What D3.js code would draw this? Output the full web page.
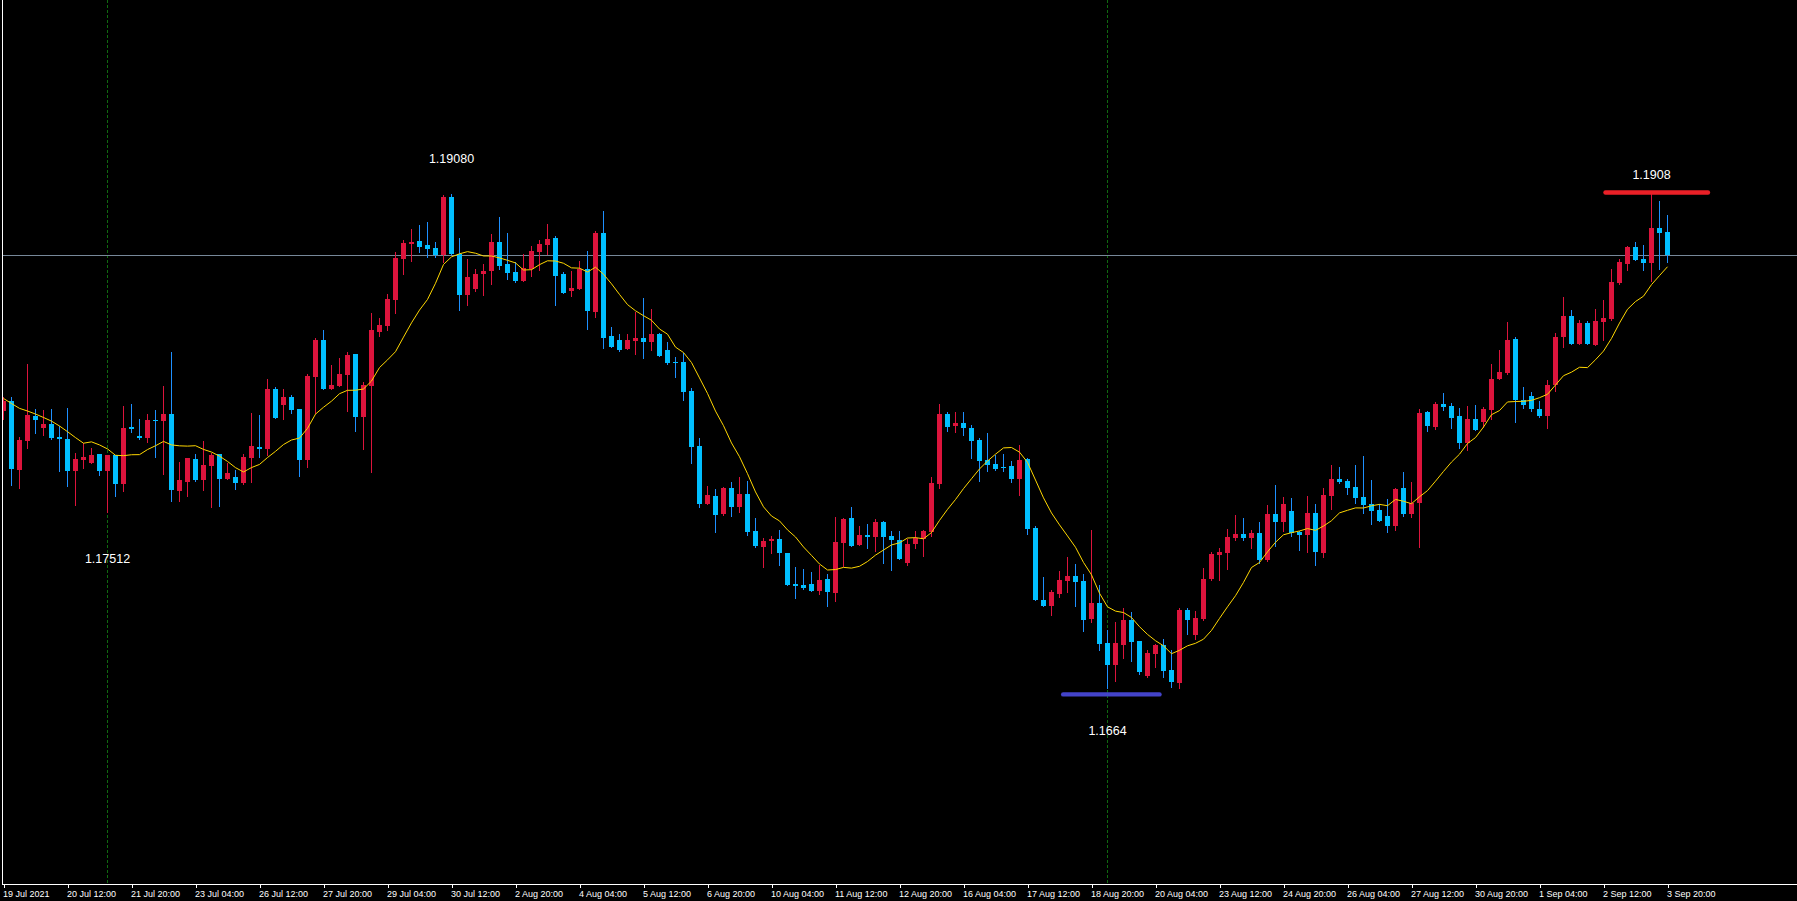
<!DOCTYPE html>
<html>
<head>
<meta charset="utf-8">
<script src="https://cdn.jsdelivr.net/npm/d3@7"></script>
<style>
  html, body { margin: 0; padding: 0; background: #000; overflow: hidden; }
  svg { display: block; }
</style>
</head>
<body>
<div id="chart"></div>
<script>
// ---- DATA (EURUSD H4, 19 Jul 2021 04:00 .. 3 Sep 2021 20:00) ----
const open = [
1.18010,1.18058,1.17717,1.17861,1.17984,1.17925,1.17944,1.17879,1.17870,1.17714,
1.17767,1.17754,1.17796,1.17714,1.17791,1.17650,1.17928,1.17885,1.17875,1.17964,
1.17961,1.17994,1.17615,1.17660,1.17772,1.17670,1.17739,1.17796,1.17675,1.17683,
1.17655,1.17778,1.17831,1.17823,1.18117,1.18038,1.18078,1.18019,1.17769,1.18178,
1.18359,1.18119,1.18134,1.18188,1.18290,1.17981,1.18134,1.18400,1.18430,1.18558,
1.18761,1.18835,1.18848,1.18828,1.18813,1.18780,1.19065,1.18785,1.18583,1.18613,
1.18687,1.18700,1.18843,1.18734,1.18695,1.18651,1.18710,1.18794,1.18828,1.18863,
1.18685,1.18601,1.18611,1.18710,1.18498,1.18887,1.18379,1.18359,1.18315,1.18354,
1.18369,1.18349,1.18389,1.18310,1.18251,1.18251,1.18108,1.17836,1.17550,1.17589,
1.17500,1.17629,1.17536,1.17600,1.17417,1.17338,1.17368,1.17378,1.17308,1.17155,
1.17151,1.17155,1.17121,1.17180,1.17111,1.17358,1.17481,1.17348,1.17397,1.17387,
1.17462,1.17392,1.17373,1.17259,1.17353,1.17378,1.17412,1.17649,1.17995,1.17935,
1.17950,1.17925,1.17866,1.17767,1.17747,1.17732,1.17737,1.17673,1.17772,1.17431,
1.17076,1.17046,1.17106,1.17170,1.17194,1.17170,1.16982,1.17061,1.16864,1.16755,
1.16854,1.16977,1.16874,1.16701,1.16809,1.16854,1.16730,1.16666,1.17027,1.16903,
1.16982,1.17180,1.17298,1.17308,1.17382,1.17402,1.17382,1.17407,1.17274,1.17501,
1.17461,1.17515,1.17412,1.17397,1.17506,1.17308,1.17589,1.17673,1.17664,1.17634,
1.17585,1.17550,1.17520,1.17491,1.17441,1.17629,1.17501,1.17555,1.18004,1.17930,
1.18044,1.18034,1.17984,1.17853,1.17970,1.17956,1.18016,1.18169,1.18197,1.18365,
1.18065,1.18083,1.18021,1.17986,1.18138,1.18375,1.18478,1.18342,1.18444,1.18337,
1.18450,1.18464,1.18641,1.18737,1.18819,1.18760,1.18742,1.18913,1.18893
];
const high = [
1.18076,1.18078,1.17880,1.18241,1.18018,1.18014,1.18018,1.17935,1.18022,1.17800,
1.17849,1.17826,1.17796,1.17791,1.17791,1.18033,1.18043,1.17969,1.17994,1.18014,
1.18132,1.18300,1.17757,1.17777,1.17796,1.17861,1.17801,1.17796,1.17752,1.17717,
1.17796,1.17999,1.17989,1.18167,1.18127,1.18117,1.18088,1.18019,1.18191,1.18369,
1.18409,1.18236,1.18270,1.18300,1.18290,1.18152,1.18493,1.18468,1.18586,1.18794,
1.18853,1.18907,1.18927,1.18942,1.18843,1.19075,1.19080,1.18863,1.18759,1.18710,
1.18736,1.18883,1.18966,1.18887,1.18744,1.18784,1.18823,1.18853,1.18932,1.18873,
1.18695,1.18700,1.18749,1.18799,1.18897,1.18996,1.18424,1.18389,1.18389,1.18498,
1.18567,1.18512,1.18394,1.18349,1.18275,1.18295,1.18122,1.17876,1.17639,1.17624,
1.17634,1.17659,1.17684,1.17664,1.17481,1.17383,1.17392,1.17422,1.17308,1.17239,
1.17230,1.17215,1.17249,1.17205,1.17486,1.17481,1.17536,1.17442,1.17452,1.17476,
1.17466,1.17417,1.17417,1.17378,1.17417,1.17422,1.17684,1.18044,1.18004,1.18004,
1.18004,1.17940,1.17876,1.17900,1.17792,1.17797,1.17762,1.17841,1.17777,1.17441,
1.17189,1.17125,1.17219,1.17288,1.17254,1.17204,1.17421,1.17150,1.16928,1.16967,
1.17036,1.17017,1.16874,1.16829,1.16859,1.16883,1.16829,1.17036,1.17036,1.17022,
1.17234,1.17313,1.17333,1.17427,1.17496,1.17481,1.17422,1.17461,1.17545,1.17644,
1.17585,1.17580,1.17417,1.17589,1.17550,1.17629,1.17742,1.17733,1.17673,1.17742,
1.17787,1.17668,1.17550,1.17575,1.17629,1.17708,1.17659,1.18019,1.18009,1.18053,
1.18098,1.18049,1.18024,1.18034,1.18039,1.18029,1.18241,1.18310,1.18449,1.18375,
1.18128,1.18105,1.18059,1.18164,1.18394,1.18572,1.18508,1.18459,1.18454,1.18513,
1.18557,1.18710,1.18760,1.18824,1.18844,1.18829,1.19078,1.19046,1.18977
];
const low = [
1.17969,1.17643,1.17630,1.17828,1.17902,1.17890,1.17870,1.17714,1.17640,1.17546,
1.17729,1.17754,1.17694,1.17512,1.17591,1.17615,1.17907,1.17870,1.17857,1.17783,
1.17699,1.17566,1.17566,1.17591,1.17665,1.17620,1.17536,1.17541,1.17675,1.17625,
1.17647,1.17660,1.17783,1.17790,1.17976,1.17971,1.18001,1.17690,1.17734,1.17997,
1.18119,1.18119,1.18134,1.18010,1.17912,1.17823,1.17709,1.18381,1.18410,1.18494,
1.18687,1.18751,1.18795,1.18771,1.18771,1.18746,1.18785,1.18509,1.18534,1.18603,
1.18583,1.18636,1.18710,1.18660,1.18646,1.18651,1.18675,1.18705,1.18784,1.18532,
1.18591,1.18577,1.18611,1.18414,1.18473,1.18320,1.18325,1.18305,1.18315,1.18290,
1.18270,1.18310,1.18280,1.18241,1.18177,1.18063,1.17752,1.17535,1.17550,1.17412,
1.17496,1.17491,1.17511,1.17397,1.17338,1.17239,1.17308,1.17249,1.17151,1.17086,
1.17131,1.17121,1.17106,1.17047,1.17072,1.17244,1.17343,1.17348,1.17333,1.17318,
1.17259,1.17225,1.17279,1.17249,1.17333,1.17294,1.17392,1.17629,1.17911,1.17906,
1.17891,1.17777,1.17663,1.17713,1.17718,1.17713,1.17658,1.17594,1.17402,1.17076,
1.17046,1.17002,1.17091,1.17115,1.17046,1.16923,1.16967,1.16829,1.16640,1.16676,
1.16790,1.16775,1.16711,1.16696,1.16745,1.16696,1.16645,1.16642,1.16908,1.16883,
1.16977,1.17175,1.17175,1.17229,1.17372,1.17372,1.17333,1.17259,1.17269,1.17343,
1.17417,1.17392,1.17323,1.17313,1.17249,1.17288,1.17525,1.17654,1.17599,1.17555,
1.17506,1.17451,1.17466,1.17412,1.17422,1.17491,1.17486,1.17338,1.17910,1.17920,
1.18014,1.17927,1.17828,1.17818,1.17917,1.17932,1.17972,1.18169,1.18194,1.17957,
1.18026,1.18011,1.17981,1.17927,1.18110,1.18327,1.18342,1.18342,1.18342,1.18337,
1.18360,1.18459,1.18636,1.18707,1.18756,1.18707,1.18653,1.18712,1.18747
];
const close = [
1.18058,1.17724,1.17865,1.17989,1.17964,1.17944,1.17875,1.17872,1.17714,1.17772,
1.17781,1.17791,1.17714,1.17791,1.17650,1.17925,1.17921,1.17877,1.17964,1.17961,
1.17994,1.17620,1.17668,1.17777,1.17670,1.17742,1.17791,1.17675,1.17703,1.17655,
1.17781,1.17836,1.17823,1.18117,1.17976,1.18078,1.18015,1.17769,1.18183,1.18359,
1.18119,1.18137,1.18191,1.18285,1.17981,1.18137,1.18409,1.18433,1.18562,1.18764,
1.18838,1.18843,1.18820,1.18810,1.18780,1.19065,1.18785,1.18583,1.18670,1.18685,
1.18702,1.18843,1.18725,1.18692,1.18651,1.18715,1.18799,1.18833,1.18860,1.18675,
1.18591,1.18616,1.18710,1.18502,1.18887,1.18369,1.18325,1.18310,1.18359,1.18369,
1.18349,1.18389,1.18280,1.18246,1.18247,1.18103,1.17831,1.17550,1.17594,1.17496,
1.17629,1.17536,1.17600,1.17412,1.17343,1.17368,1.17378,1.17308,1.17151,1.17146,
1.17136,1.17121,1.17175,1.17116,1.17363,1.17476,1.17343,1.17397,1.17387,1.17462,
1.17387,1.17373,1.17279,1.17353,1.17383,1.17417,1.17654,1.17995,1.17930,1.17950,
1.17925,1.17861,1.17762,1.17742,1.17723,1.17727,1.17673,1.17767,1.17426,1.17076,
1.17046,1.17115,1.17175,1.17194,1.17165,1.16977,1.17061,1.16859,1.16755,1.16864,
1.16977,1.16869,1.16721,1.16814,1.16854,1.16725,1.16671,1.17027,1.16977,1.16987,
1.17180,1.17303,1.17313,1.17387,1.17402,1.17382,1.17407,1.17274,1.17501,1.17461,
1.17550,1.17407,1.17397,1.17506,1.17313,1.17594,1.17673,1.17659,1.17629,1.17580,
1.17545,1.17515,1.17466,1.17441,1.17624,1.17501,1.17555,1.17999,1.17935,1.18044,
1.18029,1.17976,1.17853,1.17970,1.17917,1.18019,1.18167,1.18202,1.18360,1.18065,
1.18041,1.18021,1.17986,1.18138,1.18375,1.18478,1.18342,1.18444,1.18342,1.18454,
1.18468,1.18646,1.18745,1.18819,1.18756,1.18742,1.18913,1.18890,1.18779
];
// Moving average (10) values for the first bars (earlier bars are off-screen)
const maLead = [1.18071,1.18046,1.18022,1.18009,1.17994,1.17977,1.17959,1.17935,1.17907];
const maPeriod = 10;

// time axis labels (bar index -> label)
const tickIndex = [0,8,16,24,32,40,48,56,64,72,80,88,96,104,112,120,128,136,144,152,160,168,176,184,192,200,208];
const tickLabels = ["19 Jul 2021","20 Jul 12:00","21 Jul 20:00","23 Jul 04:00","26 Jul 12:00","27 Jul 20:00",
  "29 Jul 04:00","30 Jul 12:00","2 Aug 20:00","4 Aug 04:00","5 Aug 12:00","6 Aug 20:00","10 Aug 04:00",
  "11 Aug 12:00","12 Aug 20:00","16 Aug 04:00","17 Aug 12:00","18 Aug 20:00","20 Aug 04:00","23 Aug 12:00",
  "24 Aug 20:00","26 Aug 04:00","27 Aug 12:00","30 Aug 20:00","1 Sep 04:00","2 Sep 12:00","3 Sep 20:00"];

// annotations
const markerBars = [13, 138];                      // vertical dotted lines
const labelTexts = ["1.19080","1.17512","1.1908","1.1664"];
const labelBars  = [56, 13, 206, 138];
const labelPrices = [1.19080, 1.17512, 1.19080, 1.16640];
const levelPrices = [1.19088, 1.16610];            // red (high) and blue (low) levels
const levelFrom = [200.25, 132.46];
const levelTo   = [213.06, 144.5];

// visible price window of the chart
const priceTop = 1.20038, priceBottom = 1.15674;

// ---- DRAW ----
const W = 1797, H = 901, plotBottom = 884;
const svg = d3.select("#chart").append("svg").attr("width", W).attr("height", H)
  .style("background", "#000");

const n = close.length;
const x = d3.scaleLinear().domain([0, n - 1]).range([3.5, 3.5 + 8 * (n - 1)]);
const y = d3.scaleLinear().domain([priceBottom, priceTop]).range([plotBottom, 0]);

svg.append("defs").append("clipPath").attr("id", "plot")
  .append("rect").attr("x", 3).attr("y", 0).attr("width", W - 3).attr("height", plotBottom);

const plot = svg.append("g").attr("clip-path", "url(#plot)");

// vertical dotted marker lines
plot.selectAll("line.marker").data(markerBars).enter().append("line")
  .attr("x1", d => x(d)).attr("x2", d => x(d)).attr("y1", 0).attr("y2", plotBottom)
  .attr("stroke", "#0f6a0f").attr("stroke-width", 1).attr("stroke-dasharray", "3,2")
  .attr("shape-rendering", "crispEdges");

// last price line
const lastY = Math.round(y(close[n - 1])) + 0.5;
plot.append("line").attr("x1", 0).attr("x2", W).attr("y1", lastY).attr("y2", lastY)
  .attr("stroke", "#778899").attr("stroke-width", 1).attr("shape-rendering", "crispEdges");

const bars = d3.range(n).map(i => ({i, o: open[i], h: high[i], l: low[i], c: close[i]}));
const upBody = "#DC143C", upWick = "#DC143C", dnBody = "#00BFFF", dnWick = "#1E90FF";

const cg = plot.append("g").attr("shape-rendering", "crispEdges");
cg.selectAll("line.wick").data(bars).enter().append("line")
  .attr("x1", d => x(d.i)).attr("x2", d => x(d.i))
  .attr("y1", d => Math.round(y(d.h))).attr("y2", d => Math.round(y(d.l)) + 1)
  .attr("stroke", d => d.c >= d.o ? upWick : dnWick).attr("stroke-width", 1);
cg.selectAll("rect.body").data(bars).enter().append("rect")
  .attr("x", d => x(d.i) - 2.5)
  .attr("width", 5)
  .attr("y", d => Math.round(y(Math.max(d.o, d.c))))
  .attr("height", d => Math.max(1, Math.round(y(Math.min(d.o, d.c))) - Math.round(y(Math.max(d.o, d.c)))))
  .attr("fill", d => d.c >= d.o ? upBody : dnBody);

// moving average (SMA 10 of closes)
const ma = d3.range(n).map(i => i < maPeriod - 1 ? maLead[i] : d3.mean(close.slice(i - maPeriod + 1, i + 1)));
plot.append("path").datum(ma)
  .attr("d", d3.line().x((d, i) => x(i)).y(d => y(d)))
  .attr("fill", "none").attr("stroke", "#FFD700").attr("stroke-width", 1);

// high / low level lines
const levelColors = ["#ea2027", "#4343c9"];
svg.selectAll("line.level").data(levelPrices).enter().append("line")
  .attr("x1", (d, k) => x(levelFrom[k])).attr("x2", (d, k) => x(levelTo[k]))
  .attr("y1", d => y(d)).attr("y2", d => y(d))
  .attr("stroke", (d, k) => levelColors[k]).attr("stroke-width", 4.4)
  .attr("stroke-linecap", "round");

// price labels
const labelOffsets = [-31, 51, -15.5, 46.5];
svg.selectAll("text.plabel").data(labelTexts).enter().append("text")
  .attr("x", (d, k) => x(labelBars[k]))
  .attr("y", (d, k) => y(labelPrices[k]) + labelOffsets[k])
  .attr("text-anchor", "middle")
  .attr("font-family", "'Liberation Sans', Arial, sans-serif")
  .attr("font-size", "12.5px")
  .attr("fill", "#ffffff")
  .text(d => d);

// frame: left border and time axis
svg.append("line").attr("x1", 2.5).attr("x2", 2.5).attr("y1", 0).attr("y2", plotBottom + 0.5)
  .attr("stroke", "#ffffff").attr("stroke-width", 1).attr("shape-rendering", "crispEdges");
svg.append("line").attr("x1", 2).attr("x2", W).attr("y1", plotBottom + 0.5).attr("y2", plotBottom + 0.5)
  .attr("stroke", "#ffffff").attr("stroke-width", 1).attr("shape-rendering", "crispEdges");

const axis = d3.axisBottom(x).tickValues(tickIndex)
  .tickFormat((d, k) => tickLabels[k]).tickSize(3).tickSizeOuter(0);
const ag = svg.append("g").attr("transform", `translate(0,${plotBottom + 0.5})`).call(axis);
ag.select(".domain").remove();
ag.selectAll(".tick line").attr("stroke", "#ffffff").attr("shape-rendering", "crispEdges");
ag.selectAll(".tick text")
  .attr("fill", "#ffffff").attr("text-anchor", "start")
  .attr("x", -1).attr("y", 12.3).attr("dy", null)
  .attr("font-family", "'Liberation Sans', Arial, sans-serif").attr("font-size", "9px");
</script>
</body>
</html>
